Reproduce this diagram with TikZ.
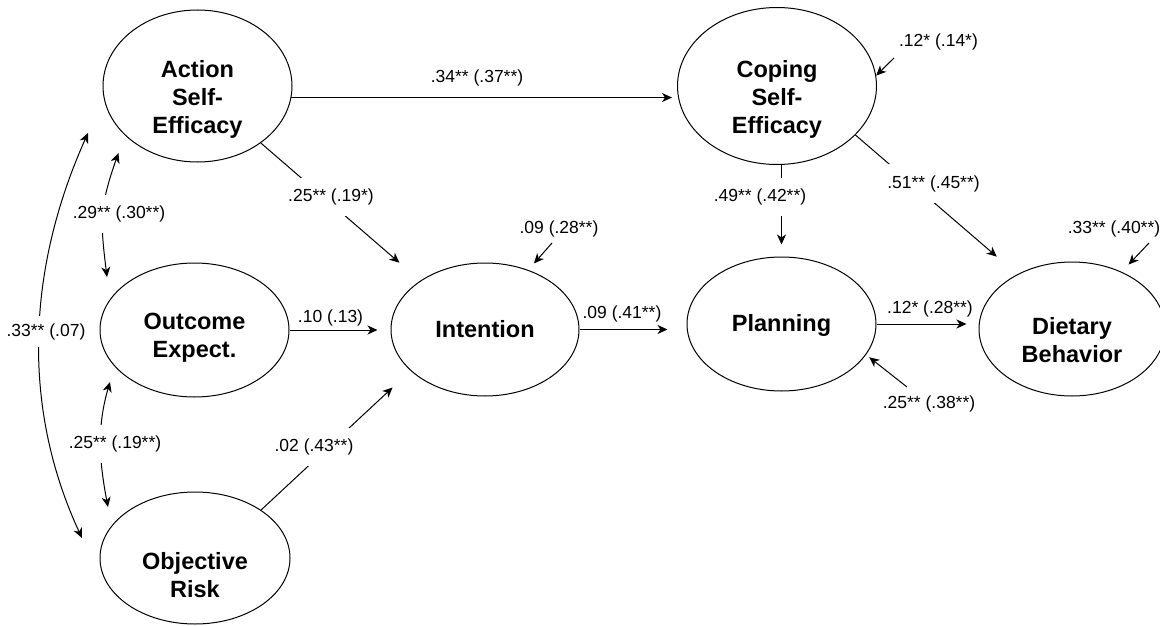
\documentclass[tikz,border=0pt]{standalone}
\usepackage{fontspec}
\setmainfont{Liberation Sans}
\usetikzlibrary{arrows.meta,shapes.geometric,calc}
\newcommand\nodetext[2]{\raisebox{#1}[\height][\depth]{\begin{tabular}{@{}c@{}}#2\end{tabular}}}
\begin{document}
\begin{tikzpicture}[x=1pt,y=-1pt,line width=1pt,
  >={Stealth[length=10pt,width=9pt,inset=3pt]},
  latent/.style={ellipse,draw,inner sep=0pt,font=\fontsize{23.5}{28}\selectfont\bfseries},
  lab/.style={font=\fontsize{17.5}{21}\selectfont,inner xsep=1pt,inner ysep=1pt},
  wlab/.style={lab,fill=white,inner ysep=11pt}]
\useasboundingbox (0,0) rectangle (1160,626);

% latent variables
\node[latent,minimum width=189pt,minimum height=152pt] (act) at (197.5,86) {\nodetext{-14pt}{Action\\Self-\\Efficacy}};
\node[latent,minimum width=189pt,minimum height=134pt] (out) at (194.5,330) {\nodetext{-8pt}{Outcome\\Expect.}};
\node[latent,minimum width=190pt,minimum height=132pt] (obj) at (195,558) {\nodetext{-20pt}{Objective\\Risk}};
\node[latent,minimum width=188pt,minimum height=133pt] (int) at (485,329.5) {\nodetext{-2pt}{Intention}};
\node[latent,minimum width=199pt,minimum height=157pt] (cop) at (777,86) {\nodetext{-14pt}{Coping\\Self-\\Efficacy}};
\node[latent,minimum width=189pt,minimum height=134pt] (plan) at (781.5,324) {\nodetext{-2pt}{Planning}};
\node[latent,minimum width=186pt,minimum height=134pt] (diet) at (1072,329) {\nodetext{-14pt}{Dietary\\Behavior}};

% residual start points
\coordinate (rint) at (552,243);
\coordinate (rcop) at (894,58);
\coordinate (rdiet) at (1149,243);
\coordinate (rplan) at (907,387);

% paths
\draw[->,shorten >=5pt] (act.-7.33) -- (act.-7.33 -| cop.west);
\draw[->,shorten >=27.5pt] (act.-42.2) -- (int.143.4);
\draw[->,shorten >=13pt] (out.east) -- (out.east -| int.west);
\draw[->,shorten >=24.6pt] (obj.36.2) -- (int.209.4);
\draw[->,shorten >=19pt] (int.east) -- (int.east -| plan.west);
\draw[->,shorten >=12pt] (plan.north |- cop.south) -- (plan.north);
\draw[->,shorten >=27pt] (cop.-32.5) -- (diet.135.4);
\draw[->,shorten >=12pt] (plan.east) -- (plan.east -| diet.west);

% residuals
\draw[->,shorten >=8.6pt] (rint) -- (int.54.8);
\draw[->] (rcop) -- (cop.6);
\draw[->,shorten >=10pt] (rdiet) -- (diet.49.8);
\draw[->,shorten >=4pt] (rplan) -- (plan.-20);

% correlations
\draw[<->] ([shift={(-79,67)}]act.center) .. controls +(-19.5,54.6) and +(-6.5,-53.3) .. ([shift={(-87.5,-53)}]out.center);
\draw[<->] ([shift={(-84.5,52)}]out.center) .. controls +(-13.2,45) and +(-8.8,-46) .. ([shift={(-87,-51)}]obj.center);
\draw[<->] ([shift={(-109.5,47)}]act.center) .. controls +(-64,143) and +(-58,-125) .. ([shift={(-113,-20)}]obj.center);

% labels
\node[lab] (l34) at (477,78) {.34** (.37**)};
\node[wlab] (l25a) at (331,197) {.25** (.19*)};
\node[lab] (l09a) at (559,228.5) {.09 (.28**)};
\node[lab] (l10) at (330.5,317.5) {.10 (.13)};
\node[lab] (l09b) at (622,313.5) {.09 (.41**)};
\node[wlab] (l02) at (314,447) {.02 (.43**)};
\node[wlab] (l49) at (760,197) {.49** (.42**)};
\node[wlab] (l51) at (933.5,183.5) {.51** (.45**)};
\node[lab] (l12a) at (938.5,41.5) {.12* (.14*)};
\node[lab] (l33r) at (1114,228.5) {.33** (.40**)};
\node[lab] (l12b) at (930,309) {.12* (.28**)};
\node[lab] (l25r) at (929,404) {.25** (.38**)};
\node[wlab] (l29) at (119,214) {.29** (.30**)};
\node[wlab] (l25l) at (115,444) {.25** (.19**)};
\node[wlab,inner ysep=7pt] (l33l) at (46,331.5) {.33** (.07)};
\end{tikzpicture}
\end{document}
